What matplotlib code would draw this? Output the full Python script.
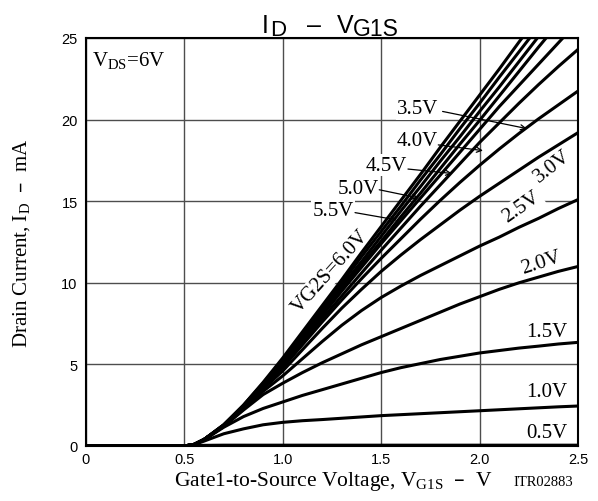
import matplotlib
matplotlib.use('Agg')
import matplotlib.pyplot as plt

# ---------------- data ----------------
VG1S = [0, 0.5, 0.55, 0.6, 0.7, 0.8, 0.9, 1.0, 1.1, 1.2, 1.3, 1.4, 1.5, 1.6,
        1.7, 1.8, 1.9, 2.0, 2.1, 2.2, 2.3, 2.4, 2.5]

ID_6_0 = [0, 0, 0.1, 0.4, 1.3, 2.5, 3.9, 5.4, 7.0, 8.6, 10.2, 11.85, 13.45, 15.05,
          16.65, 18.3, 19.9, 21.5, 23.1, 24.75, 26.35, 27.95, 29.55]
ID_5_5 = [0, 0, 0.1, 0.4, 1.3, 2.5, 3.85, 5.3, 6.85, 8.45, 10.0, 11.6, 13.15, 14.7,
          16.3, 17.85, 19.45, 21.0, 22.6, 24.15, 25.7, 27.3, 28.85]
ID_5_0 = [0, 0, 0.1, 0.4, 1.3, 2.45, 3.8, 5.2, 6.75, 8.25, 9.8, 11.3, 12.85, 14.4,
          15.9, 17.45, 18.95, 20.5, 22.0, 23.55, 25.1, 26.6, 28.1]
ID_unlabeled = [0, 0, 0.1, 0.4, 1.25, 2.4, 3.75, 5.1, 6.6, 8.1, 9.6, 11.1, 12.55, 14.05,
                15.5, 17.0, 18.5, 19.95, 21.45, 22.95, 24.45, 25.9, 27.4]
ID_4_5 = [0, 0, 0.1, 0.4, 1.25, 2.4, 3.7, 5.0, 6.5, 8.0, 9.5, 10.95, 12.4, 13.8,
          15.2, 16.6, 18.0, 19.4, 20.8, 22.1, 23.4, 24.7, 26.0]
ID_4_0 = [0, 0, 0.1, 0.4, 1.25, 2.35, 3.65, 4.9, 6.35, 7.8, 9.2, 10.6, 12.0, 13.35,
          14.7, 16.0, 17.3, 18.6, 19.8, 21.0, 22.15, 23.25, 24.3]
ID_3_5 = [0, 0, 0.1, 0.4, 1.25, 2.35, 3.6, 4.8, 6.2, 7.6, 8.95, 10.25, 11.5, 12.7,
          13.9, 15.05, 16.15, 17.2, 18.2, 19.15, 20.05, 20.9, 21.75]
ID_3_0 = [0, 0, 0.1, 0.4, 1.2, 2.3, 3.5, 4.6, 5.9, 7.2, 8.45, 9.6, 10.7, 11.7,
          12.65, 13.55, 14.45, 15.3, 16.1, 16.9, 17.7, 18.45, 19.2]
ID_2_5 = [0, 0, 0.1, 0.4, 1.2, 2.25, 3.35, 4.3, 5.35, 6.4, 7.4, 8.3, 9.1, 9.8,
          10.45, 11.05, 11.65, 12.25, 12.8, 13.4, 13.95, 14.55, 15.1]
ID_2_0 = [0, 0, 0.1, 0.4, 1.2, 2.2, 3.15, 3.85, 4.5, 5.1, 5.65, 6.2, 6.7, 7.2,
          7.7, 8.2, 8.7, 9.15, 9.6, 10.0, 10.35, 10.7, 11.0]
ID_1_5 = [0, 0, 0.1, 0.38, 1.15, 1.8, 2.3, 2.7, 3.1, 3.45, 3.8, 4.15, 4.5, 4.8,
          5.05, 5.3, 5.5, 5.7, 5.85, 6.0, 6.12, 6.25, 6.35]
ID_1_0 = [0, 0, 0.08, 0.3, 0.75, 1.05, 1.3, 1.45, 1.55, 1.62, 1.7, 1.78, 1.86, 1.92,
          1.98, 2.04, 2.1, 2.16, 2.22, 2.28, 2.34, 2.4, 2.45]
ID_0_5 = [0, 0, 0.02, 0.04, 0.05, 0.05, 0.05, 0.05, 0.05, 0.05, 0.05, 0.05, 0.05, 0.05,
          0.05, 0.05, 0.05, 0.05, 0.05, 0.05, 0.05, 0.05, 0.05]

curves = [ID_6_0, ID_5_5, ID_5_0, ID_unlabeled, ID_4_5, ID_4_0, ID_3_5,
          ID_3_0, ID_2_5, ID_2_0, ID_1_5, ID_1_0, ID_0_5]

x_ticks = [0, 0.5, 1.0, 1.5, 2.0, 2.5]
x_ticklabels = ["0", "0.5", "1.0", "1.5", "2.0", "2.5"]
y_ticks = [0, 5, 10, 15, 20, 25]
y_ticklabels = ["0", "5", "10", "15", "20", "25"]

SANS = 'Liberation Sans'
SERIF = 'Liberation Serif'

# ---------------- figure ----------------
W, H = 598, 502
fig = plt.figure(figsize=(W / 100, H / 100), dpi=100)
L, R, T, B = 86, 578, 39, 447
ax = fig.add_axes([L / W, (H - B) / H, (R - L) / W, (B - T) / H])

for ys in curves:
    ax.plot(VG1S, ys, color='black', lw=2.2, solid_capstyle='butt',
            solid_joinstyle='round', zorder=3)

ax.set_xlim(0, 2.5)
ax.set_ylim(0, 25)
ax.set_xticks(x_ticks)
ax.set_xticklabels(x_ticklabels, family=SANS, fontsize=10.5)
ax.set_yticks(y_ticks)
ax.set_yticklabels(y_ticklabels, family=SANS, fontsize=10.5)
ax.tick_params(axis='both', length=0)
ax.tick_params(axis='x', pad=4)
ax.tick_params(axis='y', pad=6)
ax.grid(True, color='#4d4d4d', lw=1.0)
ax.set_axisbelow(True)
for s in ax.spines.values():
    s.set_linewidth(1.5)
    s.set_color('black')

# ---------------- curve labels ----------------
lab_kw = dict(family=SERIF, fontsize=15, ha='center', va='center',
              zorder=2.8, bbox=dict(boxstyle='square,pad=0.08', fc='white', ec='none'))

ax.text(0.03, 23.7, r'$\mathregular{V_{DS}}$=6V', family=SERIF, fontsize=15,
        ha='left', va='center')

# horizontal labels with arrows: (text, label center, arrow start, arrow tip)
arrow_labels = [
    ("3.5V", (1.687, 20.65), (1.812, 20.5), (2.24, 19.45)),
    ("4.0V", (1.682, 18.7), (1.79, 18.45), (2.017, 18.1)),
    ("4.5V", (1.524, 17.2), (1.636, 16.97), (1.86, 16.7)),
    ("5.0V", (1.382, 15.8), (1.49, 15.7), (1.69, 15.2)),
    ("5.5V", (1.255, 14.4), (1.367, 14.3), (1.58, 13.85)),
]
for txt, c, a0, a1 in arrow_labels:
    ax.text(c[0], c[1], txt, **lab_kw)
    ax.annotate('', xy=a1, xytext=a0,
                arrowprops=dict(arrowstyle='->', lw=0.9, color='black',
                                shrinkA=0, shrinkB=0, mutation_scale=9),
                zorder=2.9)

ax.text(1.245, 10.7, 'VG2S=6.0V', rotation=48, rotation_mode='anchor', **lab_kw)
ax.text(2.368, 17.2, '3.0V', rotation=38, rotation_mode='anchor', **lab_kw)
ax.text(2.215, 14.65, '2.5V', rotation=35, rotation_mode='anchor', **lab_kw)
ax.text(2.312, 11.27, '2.0V', rotation=18, rotation_mode='anchor', **lab_kw)
ax.text(2.342, 7.0, '1.5V', **lab_kw)
ax.text(2.342, 3.34, '1.0V', **lab_kw)
ax.text(2.342, 0.83, '0.5V', **lab_kw)

# ---------------- title (pieces placed like the reference) ----------------
def px(x, y):
    return x / W, (H - y) / H

fig.text(*px(262, 33), 'I', family=SANS, fontsize=18, ha='left', va='baseline')
fig.text(*px(270, 35.5), 'D', family=SANS, fontsize=16, ha='left', va='baseline')
fig.text(*px(314, 33), '–', family=SANS, fontsize=18, ha='center', va='baseline')
fig.text(*px(337, 33), 'V', family=SANS, fontsize=18, ha='left', va='baseline')
fig.text(*px(353, 35.5), 'G1S', family=SANS, fontsize=16.5, ha='left', va='baseline')

# ---------------- axis labels ----------------
fig.text(22 / W, (H - 243) / H, r'Drain Current, $\mathregular{I_D}$  –  mA',
         family=SERIF, fontsize=15, rotation=90, ha='center', va='center')
fig.text(333 / W, (H - 486) / H, r'Gate1-to-Source Voltage, $\mathregular{V_{G1S}}$  –  V',
         family=SERIF, fontsize=15.5, ha='center', va='baseline')
fig.text(543 / W, (H - 486) / H, 'ITR02883', family=SERIF, fontsize=10.5,
         ha='center', va='baseline')

fig.savefig('out.png', dpi=100)
